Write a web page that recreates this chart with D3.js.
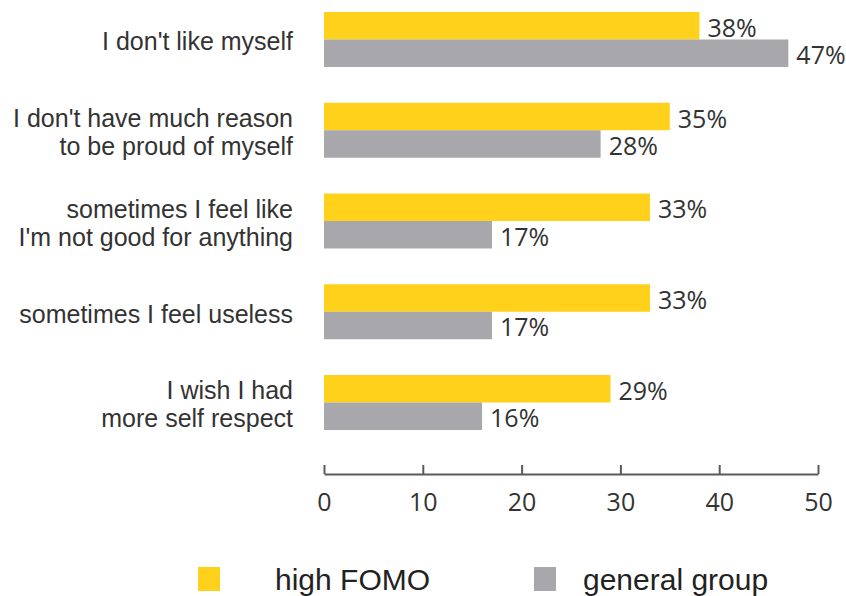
<!DOCTYPE html>
<html>
<head>
<meta charset="utf-8">
<script src="https://cdn.jsdelivr.net/npm/d3@7"></script>
<style>
  body { margin: 0; background: #fff; }
  svg { display: block; }
  .cat-label { font-family: "Liberation Sans", Arial, sans-serif; font-size: 25px; fill: #333; }
  .val-label { font-family: "Open Sans", sans-serif; font-size: 25px; fill: #333; }
  .axis text { font-family: "Open Sans", sans-serif; font-size: 25px; fill: #333; }
  .axis path, .axis line { stroke: #5a5a5a; stroke-width: 2; }
  .legend text { font-family: "Liberation Sans", Arial, sans-serif; font-size: 30px; fill: #222; }
</style>
</head>
<body>
<div id="chart"></div>
<script>
// Survey statements (top to bottom), split into display lines
const categories = [
  ["I don't like myself"],
  ["I don't have much reason", "to be proud of myself"],
  ["sometimes I feel like", "I'm not good for anything"],
  ["sometimes I feel useless"],
  ["I wish I had", "more self respect"]
];
const seriesNames = ["high FOMO", "general group"];
const highFomo = [38, 35, 33, 33, 29];
const generalGroup = [47, 28, 17, 17, 16];
const xTicks = [0, 10, 20, 30, 40, 50];

const W = 846, H = 596;
const colors = { "high FOMO": "#ffd11a", "general group": "#a8a8ac" };

const svg = d3.select("#chart").append("svg")
  .attr("width", W)
  .attr("height", H);

// Scales
const x = d3.scaleLinear().domain([0, 50]).range([324, 818]);
const y0 = d3.scaleBand()
  .domain(d3.range(categories.length))
  .range([12, 430])
  .paddingInner(0.394)
  .paddingOuter(0);
const y1 = d3.scaleBand().domain(seriesNames).range([0, y0.bandwidth()]);

const rows = categories.map((c, i) => ({
  idx: i,
  lines: c,
  values: [
    { series: "high FOMO", value: highFomo[i] },
    { series: "general group", value: generalGroup[i] }
  ]
}));

// Bars + value labels
const groups = svg.selectAll(".group")
  .data(rows)
  .enter().append("g")
  .attr("class", "group")
  .attr("transform", d => `translate(0,${y0(d.idx)})`);

groups.selectAll("rect")
  .data(d => d.values)
  .enter().append("rect")
  .attr("x", x(0))
  .attr("y", d => y1(d.series))
  .attr("width", d => x(d.value) - x(0))
  .attr("height", y1.bandwidth())
  .attr("fill", d => colors[d.series]);

groups.selectAll(".val-label")
  .data(d => d.values)
  .enter().append("text")
  .attr("class", "val-label")
  .attr("x", d => x(d.value) + 8)
  .attr("y", d => y1(d.series) + y1.bandwidth() / 2 + 1)
  .attr("dominant-baseline", "central")
  .text(d => d.value + "%");

// Category labels
const lineH = 28;
groups.append("text")
  .attr("class", "cat-label")
  .attr("text-anchor", "end")
  .each(function(d) {
    const t = d3.select(this);
    const mid = y0.bandwidth() / 2 + 2;
    d.lines.forEach((ln, k) => {
      t.append("tspan")
        .attr("x", 293)
        .attr("y", mid + (k - (d.lines.length - 1) / 2) * lineH)
        .attr("dominant-baseline", "central")
        .text(ln);
    });
  });

// Axis (ticks pointing up)
const axis = d3.axisBottom(x)
  .tickValues(xTicks)
  .tickSize(-9)
  .tickSizeOuter(0)
  .tickPadding(19)
  .tickFormat(d3.format("d"));

svg.append("g")
  .attr("class", "axis")
  .attr("transform", "translate(0,474)")
  .call(axis);

// Legend
const legendItems = [
  { name: "high FOMO", sx: 198, tx: 275 },
  { name: "general group", sx: 534, tx: 583 }
];
const legend = svg.append("g").attr("class", "legend");
legendItems.forEach(it => {
  legend.append("rect")
    .attr("x", it.sx)
    .attr("y", 567)
    .attr("width", 22)
    .attr("height", 24)
    .attr("fill", colors[it.name]);
  legend.append("text")
    .attr("x", it.tx)
    .attr("y", 590)
    .text(it.name);
});
</script>
</body>
</html>
